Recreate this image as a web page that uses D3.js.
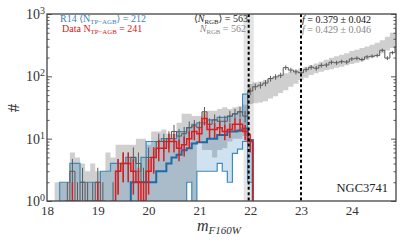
<!DOCTYPE html>
<html><head><meta charset="utf-8">
<script src="https://cdn.jsdelivr.net/npm/d3@7"></script>
<style>body{margin:0;background:#fff}svg{display:block}</style>
</head><body><svg id="c" width="407" height="244"></svg>
<script>
// ---- data (bins of 0.1 mag, first left edge 18.05) ----
const binStart = 18.05, binWidth = 0.1;
const grayHi = [0,2,2,2,6,5,4,3,4,3,3,6,5,8,8,8,8,10,10,8,13,13,14,12,12,18,25,25,23,23,27,28,28,30,32,30,32,33,35,
  75,80,83,88,92,98,104,112,120,127,134,142,150,160,172,185,198,210,222,235,255,268,285,300,320,345,380,430,500,590];
const grayLo = [0,0,0,0,0,0,0,0,0,0,0,0,0,0,0,0,0,0,0,0,0,0,0,0,0,0,0,2,0,9,6.6,6.6,5,6.6,7,9,10,10,11,
  36,37,38,40,44,48,54,60,68,76,87,95,105,112,118,125,130,137,143,150,158,165,175,185,200,215,235,260,285,315];
const blueHi = [0,0,2,2,4,4,2,2,2,2,3,3,4,4,4,5,5,3,5,9,9,9,10,10,10,13,13,15,17,18,18,20,20,22,22,23,25,27,52,9.5];
const blueLo = [0,0,0,0,0,0,0,0,0,0,0,0,0,0,0,0,0,0,0,0,0,0,0,0,0,0,0,2,0,3,3,3,3,4,3,2,5.8,6.8,9,2];
const blueMed = [0,0,0,0,0,0,0,0,0,0,0,0,0,0,0,0,2,2,2,2,2,3,3,4,5,5.5,6.5,7,8.4,8.8,8.8,10,10,11.5,11.5,13,13,13.5,14.5,9.5];
const dataAll = [0,0,0,1,3,1,2,1,1,2,1,0,1,3,4,4,5,4,2,5,5,9,9,10,13,11,12,15,16,15,27,17,20,19,19,23,25,27,23,
  58,68,72,78,92,98,104,138,126,118,114,128,140,135,150,152,168,165,172,170,190,195,186,205,210,215,262,196,240,300];
const dataAGB = [0,0,0,0,1,0,0,0,0,1,0,0,0,3,4,4,3,2,1,3,5,7,7,9,9,7,8,10,13,12,21,14,14,15,13,14,17,17,13,9];
const cutLines = [21.97, 23.0];
const rgbBand = [21.87, 22.07];
const xTicks = [18,19,20,21,22,23,24];
const yTicks = [1,10,100,1000];

// ---- layout ----
const P = {l:47, r:396, t:14, b:201};
const serif = "'Liberation Serif','Times New Roman','DejaVu Serif',serif";
const svg = d3.select("#c");
const x = d3.scaleLinear().domain([18, 24.87]).range([P.l, P.r]);
const y = d3.scaleLog().domain([1, 1000]).range([P.b, P.t]);
const yy = v => v > 0 ? y(v) : P.b + 30;
const edge = k => binStart + k * binWidth;

svg.append("clipPath").attr("id","clip").append("rect")
  .attr("x",P.l).attr("y",P.t).attr("width",P.r-P.l).attr("height",P.b-P.t);
const g = svg.append("g").attr("clip-path","url(#clip)");

g.append("rect").attr("x", x(rgbBand[0])).attr("width", x(rgbBand[1]) - x(rgbBand[0]))
  .attr("y", P.t).attr("height", P.b - P.t).attr("fill", "#e4e4e4");

function bandPts(lo, hi) {
  const pts = [];
  hi.forEach((h, k) => { pts.push([edge(k), lo[k], h]); pts.push([edge(k+1), lo[k], h]); });
  return pts;
}
const area = d3.area().defined(d => d[2] > 0)
  .x(d => x(d[0])).y0(d => yy(d[1])).y1(d => yy(d[2]));

g.append("path").attr("d", area(bandPts(grayLo, grayHi))).attr("fill", "rgba(0,0,0,0.19)");
g.append("path").attr("d", area(bandPts(blueLo, blueHi))).attr("fill", "rgba(40,125,185,0.22)");

function stepPts(vals, k0, k1) {
  const pts = [[edge(k0), 0]];
  for (let k = k0; k <= k1; k++) { pts.push([edge(k), vals[k]]); pts.push([edge(k+1), vals[k]]); }
  pts.push([edge(k1+1), 0]);
  return pts;
}
const line = d3.line().x(d => x(d[0])).y(d => yy(d[1]));
const first = a => a.findIndex(v => v > 0);

g.append("path").attr("d", line(stepPts(blueHi, first(blueHi), blueHi.length-1)))
  .attr("fill","none").attr("stroke","#3d8bbd").attr("stroke-width",1.2);
g.append("path").attr("d", line(stepPts(blueLo, first(blueLo), blueLo.length-1)))
  .attr("fill","none").attr("stroke","#3d8bbd").attr("stroke-width",1.2);
g.append("path").attr("d", line(stepPts(blueMed, first(blueMed), blueMed.length-1)))
  .attr("fill","none").attr("stroke","#1f6aa5").attr("stroke-width",2);

function hist(vals, color, w) {
  const k0 = first(vals);
  g.append("path").attr("d", line(stepPts(vals, k0, vals.length-1)))
    .attr("fill","none").attr("stroke",color).attr("stroke-width",w);
  const eb = vals.map((v,k)=>({k,v})).filter(d => d.v > 0);
  g.selectAll(null).data(eb).enter().append("line")
    .attr("x1", d => x(edge(d.k) + binWidth/2)).attr("x2", d => x(edge(d.k) + binWidth/2))
    .attr("y1", d => yy(d.v - Math.sqrt(d.v))).attr("y2", d => yy(d.v + Math.sqrt(d.v)))
    .attr("stroke", color).attr("stroke-width", w);
}
hist(dataAll, "#5a5a5a", 1);
hist(dataAGB, "#dd1c1c", 1.5);

svg.selectAll(null).data(cutLines).enter().append("line")
  .attr("x1", d => x(d)).attr("x2", d => x(d)).attr("y1", P.t).attr("y2", P.b)
  .attr("stroke","#000").attr("stroke-width",2).attr("stroke-dasharray","3,2.4");

// axes
const minor = [];
[1,10,100].forEach(d => { for (let i = 2; i <= 9; i++) minor.push(d*i); });
const axC = "#444";
function styleAxis(s){ s.select(".domain").remove(); s.selectAll("line").attr("stroke",axC).attr("stroke-width",0.9); }
svg.append("g").attr("transform",`translate(${P.l},0)`)
  .call(d3.axisLeft(y).tickValues(minor).tickSize(-2.5).tickFormat("")).call(styleAxis);
svg.append("g").attr("transform",`translate(${P.r},0)`)
  .call(d3.axisRight(y).tickValues(minor).tickSize(-2.5).tickFormat("")).call(styleAxis);
svg.append("g").attr("transform",`translate(${P.r},0)`)
  .call(d3.axisRight(y).tickValues(yTicks).tickSize(-5).tickFormat("")).call(styleAxis);
const yAx = svg.append("g").attr("transform",`translate(${P.l},0)`)
  .call(d3.axisLeft(y).tickValues(yTicks).tickSize(-5).tickPadding(2)).call(styleAxis);
yAx.selectAll(".tick text").text(null)
  .attr("font-family",serif).attr("font-size",14).attr("fill","#333")
  .each(function(d){
    const t = d3.select(this);
    t.append("tspan").text("10");
    t.append("tspan").attr("dy",-5).attr("font-size",10).text(Math.round(Math.log10(d)));
  });
const xAx = svg.append("g").attr("transform",`translate(0,${P.b})`)
  .call(d3.axisBottom(x).tickValues(xTicks).tickSize(0).tickPadding(5).tickFormat(d3.format("d"))).call(styleAxis);
xAx.selectAll(".tick text").attr("font-family",serif).attr("font-size",13).attr("fill","#333");

svg.append("rect").attr("x",P.l).attr("y",P.t).attr("width",P.r-P.l).attr("height",P.b-P.t)
  .attr("fill","none").attr("stroke",axC).attr("stroke-width",1.3);

// labels
svg.append("text").attr("transform","translate(19,108) rotate(-90)").attr("text-anchor","middle")
  .attr("font-family",serif).attr("font-size",17).attr("fill","#333").text("#");
const xl = svg.append("text").attr("x",197).attr("y",230.5).attr("font-family",serif).attr("fill","#333")
  .attr("font-style","italic");
xl.append("tspan").attr("font-size",16).text("m");
xl.append("tspan").attr("font-size",11).attr("dy",3.5).text("F160W");

function label(xp, yp, color, anchor, parts, fs) {
  const t = svg.append("text").attr("x",xp).attr("y",yp).attr("fill",color)
    .attr("text-anchor",anchor).attr("font-family",serif).attr("font-size",fs);
  let off = 0;
  parts.forEach(p => {
    const s = t.append("tspan").text(p.t);
    const want = p.sub ? 2 : 0;
    if (want !== off) { s.attr("dy", want - off); off = want; }
    if (p.sub) s.attr("font-size", fs*0.68);
    if (p.it) s.attr("font-style","italic");
  });
}
label(60, 22, "#3a84bb", "start", [{t:"R14 ⟨N"},{t:"TP−AGB",sub:1},{t:"⟩ = 212"}], 10);
label(62, 31.5, "#d62020", "start", [{t:"Data N"},{t:"TP−AGB",sub:1},{t:" = 241"}], 10);
label(248, 22, "#222", "end", [{t:"⟨"},{t:"N",it:1},{t:"RGB",sub:1},{t:"⟩ = 563"}], 10);
label(246, 31.5, "#888", "end", [{t:"N",it:1},{t:"RGB",sub:1},{t:" = 562"}], 10);
label(302, 23, "#111", "start", [{t:"f",it:1},{t:" = 0.379 ± 0.042"}], 10);
label(302, 32.5, "#888", "start", [{t:"f",it:1},{t:" = 0.429 ± 0.046"}], 10);
svg.append("text").attr("x",388).attr("y",192).attr("text-anchor","end").attr("font-family",serif)
  .attr("font-size",12.5).attr("fill","#222").text("NGC3741");
</script></body></html>
